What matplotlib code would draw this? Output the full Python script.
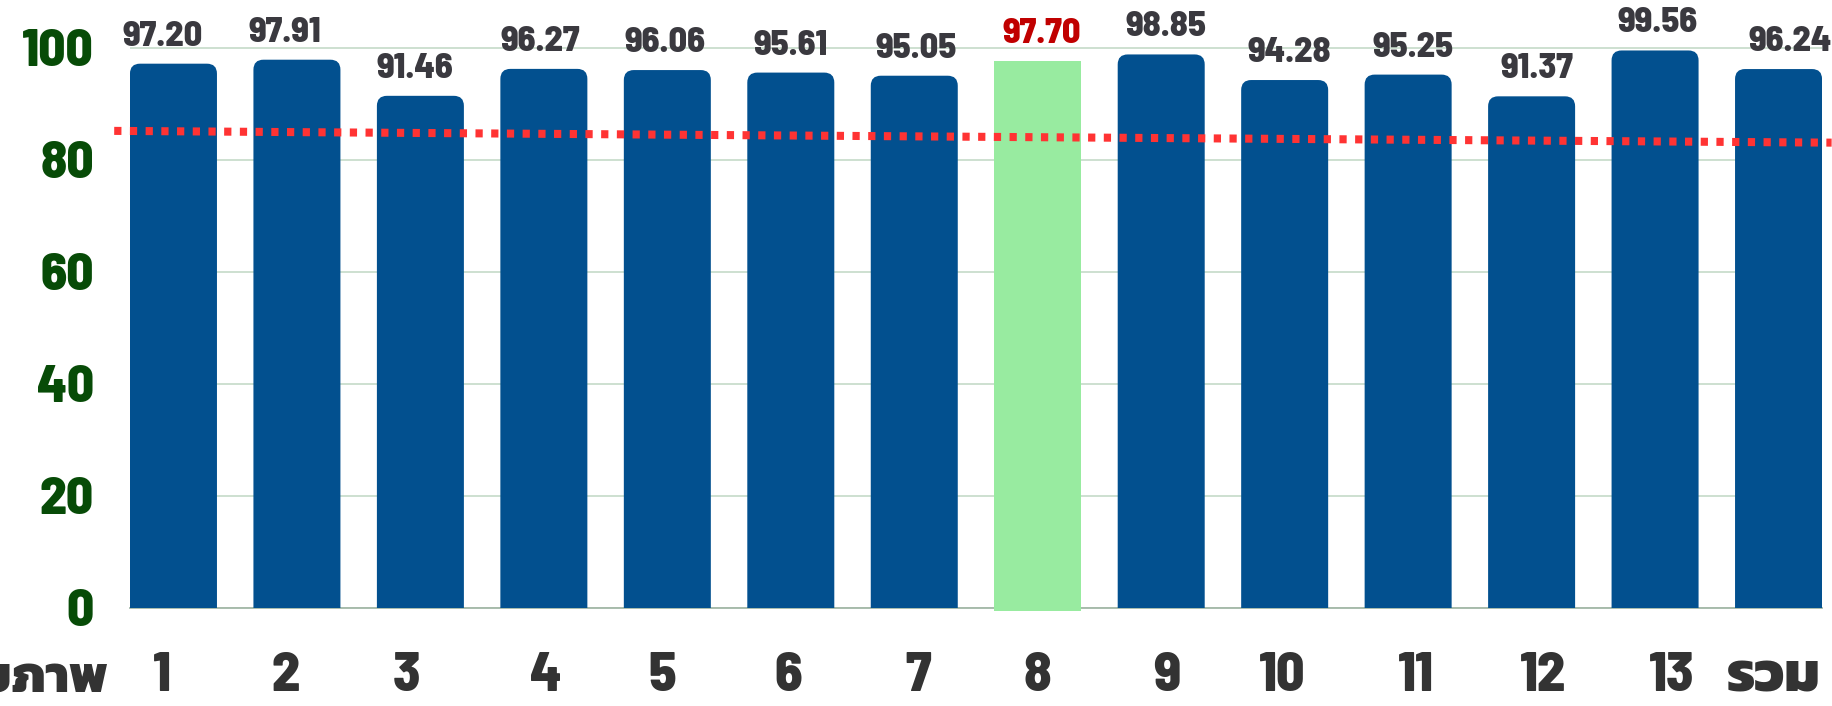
import matplotlib
matplotlib.use("Agg")
import matplotlib.pyplot as plt
from matplotlib import font_manager
from matplotlib.ft2font import FT2Font
from matplotlib.patches import FancyBboxPatch, Rectangle

# data
regions = ["1", "2", "3", "4", "5", "6", "7", "8", "9", "10", "11", "12", "13", "รวม"]
scores = [97.20, 97.91, 91.46, 96.27, 96.06, 95.61, 95.05, 97.70, 98.85, 94.28, 95.25, 91.37, 99.56, 96.24]
highlight = 7          # region 8 is drawn in green
ref_x = [-0.48, 13.43]  # dotted target line, start / end
ref_y = [85.2, 83.1]
y_ticks = [0, 20, 40, 60, 80, 100]
x_title = "เขตสุขภาพ"

# small horizontal nudges (pixels) seen in the original labels
tick_shift = [-12, -11.5, -14, 1.5, -5, -2.5, 4, 0, 6, -2.5, 8, 11.5, 17, -4.5]
value_shift = [-11, -12, -6, -4, -2, 0, 2, 4.5, 5, 5, 5, 5, 2, 12]

BLUE = "#02508f"
GREEN = "#98eba0"
GREY_TXT = "#3a393f"
DARK_GREEN = "#074b07"
RED = "#ff3333"

# find fonts that can draw Thai, keep the heaviest weight of each family
names = {f.name for f in font_manager.fontManager.ttflist}
thai = {}
for f in font_manager.fontManager.ttflist:
    try:
        if 0x0E23 in FT2Font(f.fname).get_charmap():
            w = f.weight if isinstance(f.weight, int) else font_manager.weight_dict.get(f.weight, 400)
            thai[f.name] = max(thai.get(f.name, 0), w)
    except Exception:
        pass
thai_font = None
for pref in ["Kanit", "Prompt", "Noto Sans Thai", "Sarabun", "Noto Sans Thai Looped"]:
    if pref in thai:
        thai_font = pref
        break
if thai_font is None and thai:
    thai_font = max(thai, key=thai.get)

num_font = next(n for n in ["Barlow Semi Condensed", "Roboto Condensed", "Roboto", "DejaVu Sans"]
                if n in names or n == "DejaVu Sans")
families = [num_font] + ([thai_font] if thai_font else []) + ["DejaVu Sans"]
thai_families = ([thai_font] if thai_font else []) + ["DejaVu Sans"]

W, H = 1832, 706
fig = plt.figure(figsize=(W / 100, H / 100), dpi=100)

# axes placed in pixels: bar 1 left edge 130, bar 14 right edge 1822, y=0 at 608, y=100 at 48
px_per_y = (608 - 48) / 100
ytop = 102
ax = fig.add_axes([130 / W, (H - 608) / H, (1822 - 130) / W, ytop * px_per_y / H])
ax.set_xlim(-0.352, 13.352)
ax.set_ylim(0, ytop)

px_per_x = (1822 - 130) / (13.352 + 0.352)
width = 87 / px_per_x
radius = 10 / px_per_x
aspect = (10 / px_per_y) / radius

for i, v in enumerate(scores):
    if i == highlight:
        ax.add_patch(Rectangle((i - width / 2, -0.6), width, v + 0.6, facecolor=GREEN,
                               edgecolor="none", zorder=3, clip_on=False))
    else:
        ax.add_patch(FancyBboxPatch((i - width / 2, -5), width, v + 5,
                                    boxstyle=f"round,pad=0,rounding_size={radius}",
                                    mutation_aspect=aspect, facecolor=BLUE,
                                    edgecolor="none", zorder=3))

# dotted reference line
ax.plot(ref_x, ref_y, color=RED, linewidth=5.8, linestyle=(0, (0.9, 1.05)),
        dash_capstyle="butt", zorder=4, clip_on=False)

# value labels
for i, v in enumerate(scores):
    ax.annotate(f"{v:.2f}", xy=(i, v), xytext=(value_shift[i] * 0.72, 18 * 0.72),
                textcoords="offset points", ha="center", va="baseline",
                fontsize=26, fontweight="heavy", family=families,
                color="#c00000" if i == highlight else GREY_TXT)

# x labels
for i, lab in enumerate(regions):
    ax.annotate(lab, xy=(i, 0), xycoords=("data", "axes fraction"),
                xytext=(tick_shift[i] * 0.72, -83 * 0.72), textcoords="offset points",
                ha="center", va="baseline", fontsize=40, fontweight="heavy",
                family=families, color="#333333", annotation_clip=False)
fig.text(108 / W, (H - 692) / H, x_title, ha="right", va="baseline", fontsize=37,
         fontweight="heavy", family=thai_families, color="#333333")

ax.set_xticks([])
ax.set_yticks(y_ticks)
ax.set_yticklabels([str(t) for t in y_ticks], fontsize=38, fontweight="heavy",
                   family=families, color=DARK_GREEN)
ax.tick_params(axis="y", length=0, pad=26)
ax.yaxis.grid(True, color="#c9ddcd", linewidth=1.3)
ax.set_axisbelow(True)
for s in ["top", "left", "right"]:
    ax.spines[s].set_visible(False)
ax.spines["bottom"].set_color("#a3b8a7")
ax.spines["bottom"].set_linewidth(1.3)
ax.spines["bottom"].set_zorder(2)

fig.savefig("out.png", dpi=100)
